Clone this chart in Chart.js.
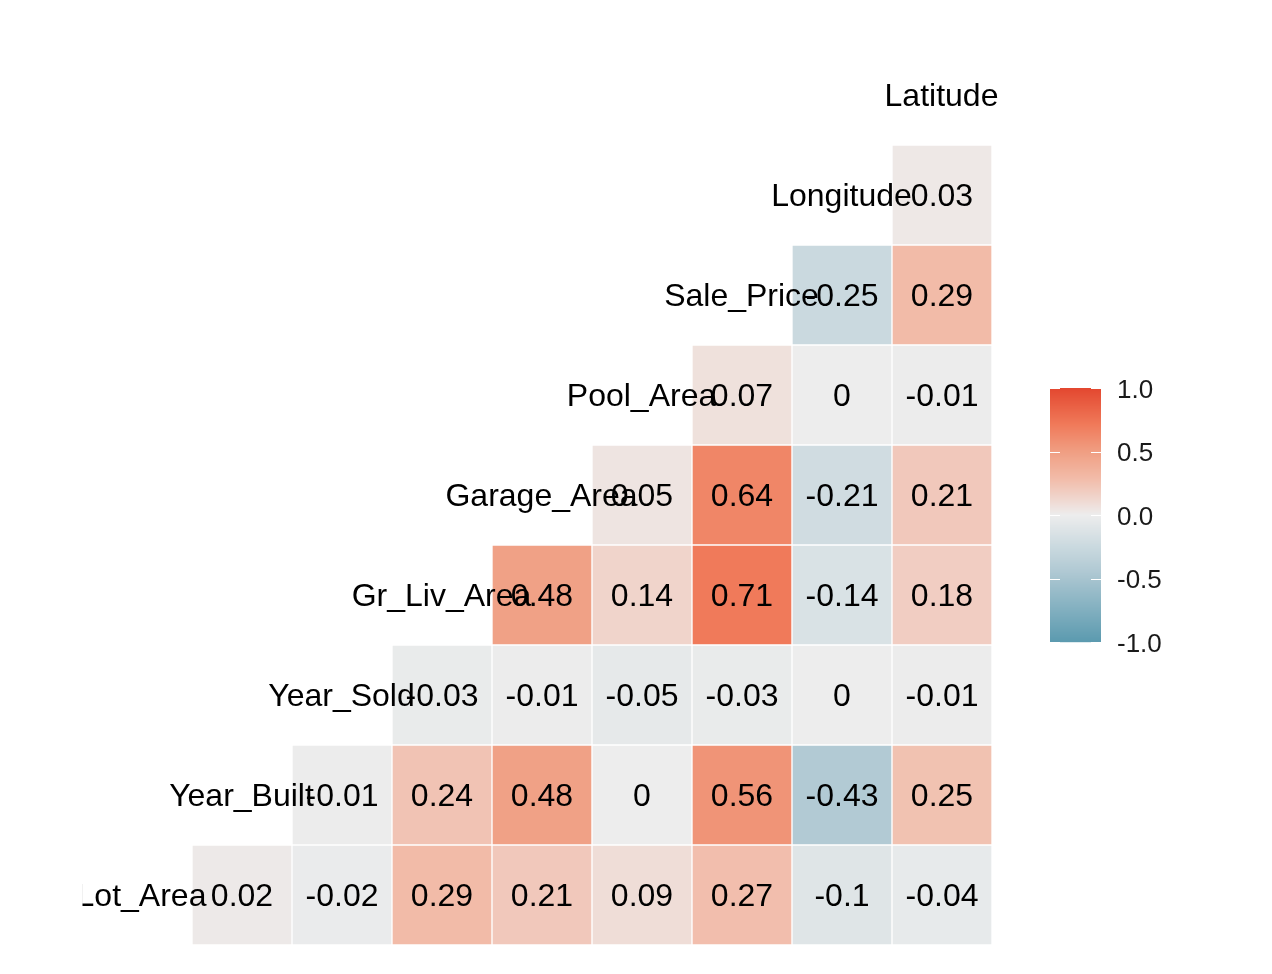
<!DOCTYPE html>
<html>
<head>
<meta charset="utf-8">
<title>Correlation matrix</title>
<script src="https://cdn.jsdelivr.net/npm/chart.js@4.4.1/dist/chart.umd.min.js"></script>
<style>
  html, body { margin: 0; padding: 0; background: #fff; }
  #wrap { width: 1272px; height: 974px; position: relative; }
</style>
</head>
<body>
<div id="wrap"><canvas id="corrChart"></canvas></div>
<script>
// variables, bottom row first (each one labels the diagonal of its row)
const variables = ['Lot_Area', 'Year_Built', 'Year_Sold', 'Gr_Liv_Area', 'Garage_Area',
                   'Pool_Area', 'Sale_Price', 'Longitude', 'Latitude'];

// correlations of each variable with the variables after it
const corLotArea = [0.02, -0.02, 0.29, 0.21, 0.09, 0.27, -0.1, -0.04];
const corYearBuilt = [-0.01, 0.24, 0.48, 0, 0.56, -0.43, 0.25];
const corYearSold = [-0.03, -0.01, -0.05, -0.03, 0, -0.01];
const corGrLivArea = [0.48, 0.14, 0.71, -0.14, 0.18];
const corGarageArea = [0.05, 0.64, -0.21, 0.21];
const corPoolArea = [0.07, 0, -0.01];
const corSalePrice = [-0.25, 0.29];
const corLongitude = [0.03];

const corRows = [corLotArea, corYearBuilt, corYearSold, corGrLivArea,
                 corGarageArea, corPoolArea, corSalePrice, corLongitude];

const legendTicks = [1.0, 0.5, 0.0, -0.5, -1.0];

// colour ramp
const colorStops = [
    [-1.0, [91, 154, 175]],
    [-0.43, [178, 202, 212]],
    [-0.25, [202, 217, 223]],
    [0.0, [237, 237, 237]],
    [0.14, [240, 212, 203]],
    [0.29, [242, 187, 168]],
    [0.5, [240, 158, 130]],
    [0.71, [240, 122, 90]],
    [1.0, [227, 71, 47]]
];

function corColor(v) {
    for (let i = 0; i < colorStops.length - 1; i++) {
        const [a, ca] = colorStops[i];
        const [b, cb] = colorStops[i + 1];
        if (v >= a && v <= b) {
            const t = (v - a) / (b - a);
            const c = ca.map((x, k) => Math.round(x + (cb[k] - x) * t));
            return 'rgb(' + c.join(',') + ')';
        }
    }
    return v < 0 ? 'rgb(91,154,175)' : 'rgb(227,71,47)';
}

const FONT = '"Liberation Sans", Arial, sans-serif';

// one dataset per row, floating bars span one row unit
const datasets = corRows.map((vals, r) => {
    const data = variables.map((_, c) => (c > r ? [r - 0.5, r + 0.5] : null));
    const colors = variables.map((_, c) => (c > r ? corColor(vals[c - r - 1]) : 'transparent'));
    return {
        label: variables[r],
        data: data,
        backgroundColor: colors,
        borderColor: '#ffffff',
        borderWidth: 1,
        borderSkipped: false,
        grouped: false,
        barPercentage: 1,
        categoryPercentage: 1
    };
});

const textPlugin = {
    id: 'corrText',
    afterDatasetsDraw(chart) {
        const ctx = chart.ctx;
        const xs = chart.scales.x;
        const ys = chart.scales.y;
        ctx.save();
        ctx.beginPath();
        ctx.rect(82.5, 0, chart.width - 82.5, chart.height);
        ctx.clip();
        ctx.fillStyle = '#000';
        ctx.font = '32px ' + FONT;
        ctx.textAlign = 'center';
        ctx.textBaseline = 'middle';
        corRows.forEach((vals, r) => {
            vals.forEach((v, k) => {
                ctx.fillText(String(v), xs.getPixelForValue(r + k + 1), ys.getPixelForValue(r) + 2.5);
            });
        });
        variables.forEach((name, i) => {
            ctx.fillText(name, xs.getPixelForValue(i) - 0.5, ys.getPixelForValue(i) + 2.5);
        });
        ctx.restore();

        // colour bar legend
        const bar = { left: 1050, top: 388, width: 51, height: 254 };
        const yFor = (v) => bar.top + (1 - v) / 2 * bar.height;
        for (let py = 0; py < bar.height; py++) {
            const v = 1 - (py + 0.5) / bar.height * 2;
            ctx.fillStyle = corColor(v);
            ctx.fillRect(bar.left, bar.top + py, bar.width, 1.2);
        }
        ctx.strokeStyle = '#ffffff';
        ctx.lineWidth = 1;
        ctx.font = '26px ' + FONT;
        ctx.textAlign = 'left';
        ctx.textBaseline = 'middle';
        legendTicks.forEach((t) => {
            const y = Math.round(yFor(t)) + 0.5;
            ctx.beginPath();
            ctx.moveTo(bar.left, y);
            ctx.lineTo(bar.left + 10, y);
            ctx.moveTo(bar.left + bar.width - 10, y);
            ctx.lineTo(bar.left + bar.width, y);
            ctx.stroke();
            ctx.fillStyle = '#1a1a1a';
            ctx.fillText(t.toFixed(1), 1117, yFor(t) + 2.5);
        });
    }
};

new Chart(document.getElementById('corrChart'), {
    type: 'bar',
    data: {
        labels: variables,
        datasets: datasets
    },
    options: {
        responsive: true,
        maintainAspectRatio: false,
        animation: false,
        layout: {
            padding: { left: 92, right: 280, top: 45, bottom: 29 }
        },
        plugins: {
            legend: { display: false },
            tooltip: { enabled: false }
        },
        scales: {
            x: {
                display: false,
                offset: true
            },
            y: {
                display: false,
                min: -0.5,
                max: 8.5
            }
        }
    },
    plugins: [textPlugin]
});
</script>
</body>
</html>
